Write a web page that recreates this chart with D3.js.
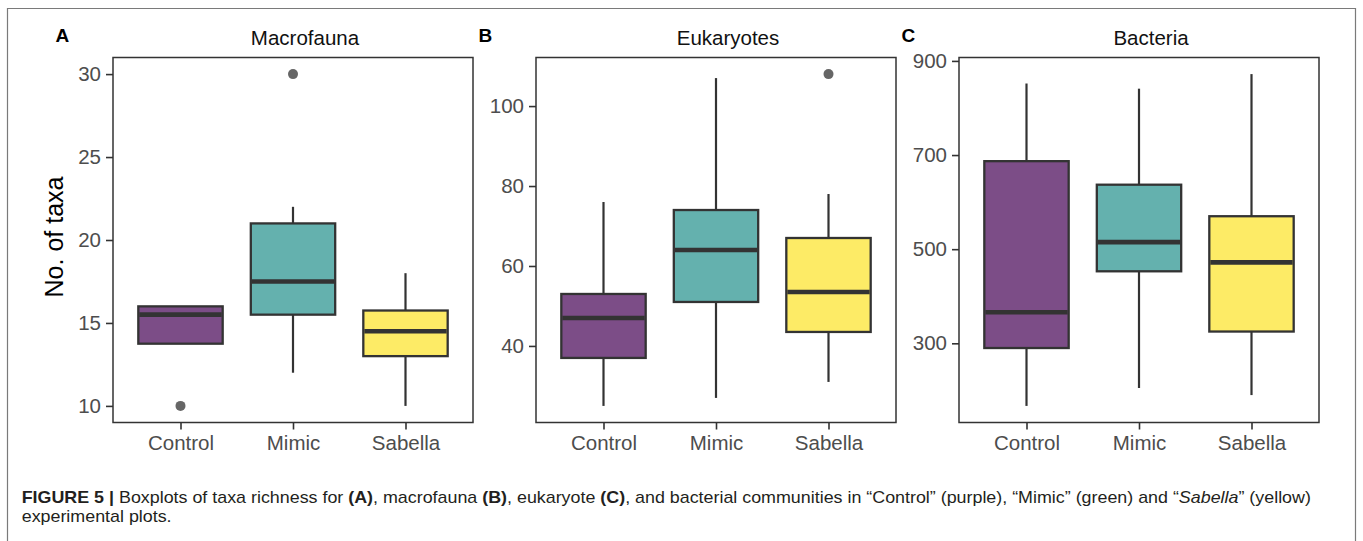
<!DOCTYPE html>
<html>
<head>
<meta charset="utf-8">
<script src="https://cdn.jsdelivr.net/npm/d3@7/dist/d3.min.js"></script>
<style>
  html, body { margin: 0; padding: 0; background: #ffffff; }
  svg { display: block; }
  text { font-family: "Liberation Sans", Arial, Helvetica, sans-serif; }
</style>
</head>
<body>
<svg id="chart" width="1363" height="541"></svg>
<script>
// ---------------- DATA ----------------
const categories = ["Control", "Mimic", "Sabella"];
const fillColors = ["#7C4D87", "#64B1AE", "#FDEB66"];

const panelLetters = ["A", "B", "C"];
const panelTitles = ["Macrofauna", "Eukaryotes", "Bacteria"];

// Macrofauna
const macroLower   = [13.75, 12, 10];
const macroQ1      = [13.75, 15.5, 13];
const macroMedian  = [15.5, 17.5, 14.5];
const macroQ3      = [16, 21, 15.75];
const macroUpper   = [16, 22, 18];
const macroOutliers = [[10], [30], []];
const macroTicks   = [10, 15, 20, 25, 30];

// Eukaryotes
const eukLower   = [25, 27, 31];
const eukQ1      = [37, 51, 43.5];
const eukMedian  = [47, 64, 53.5];
const eukQ3      = [53, 74, 67];
const eukUpper   = [76, 107, 78];
const eukOutliers = [[], [], [108]];
const eukTicks   = [40, 60, 80, 100];

// Bacteria
const bacLower   = [167, 205, 190];
const bacQ1      = [290, 453, 325];
const bacMedian  = [366, 515, 472];
const bacQ3      = [687, 637, 570];
const bacUpper   = [852, 841, 872];
const bacOutliers = [[], [], []];
const bacTicks   = [300, 500, 700, 900];

const yAxisLabel = "No. of taxa";

// ---------------- BUILD ----------------
function buildStats(lower, q1, med, q3, upper, outl) {
  return categories.map((c, i) => ({
    cat: c, lower: lower[i], q1: q1[i], median: med[i], q3: q3[i], upper: upper[i], outliers: outl[i], color: fillColors[i]
  }));
}
const panels = [
  { stats: buildStats(macroLower, macroQ1, macroMedian, macroQ3, macroUpper, macroOutliers), ticks: macroTicks },
  { stats: buildStats(eukLower, eukQ1, eukMedian, eukQ3, eukUpper, eukOutliers), ticks: eukTicks },
  { stats: buildStats(bacLower, bacQ1, bacMedian, bacQ3, bacUpper, bacOutliers), ticks: bacTicks }
];

const svg = d3.select("#chart");
const W = 1363, H = 541;

// outer frame (top, left, right)
svg.append("path")
  .attr("d", `M7.5,${H} L7.5,8.5 L1355.5,8.5 L1355.5,${H}`)
  .attr("fill", "none").attr("stroke", "#7a7a7a").attr("stroke-width", 1.2);

const plotLefts = [113, 536, 959];
const plotTop = 57.5, plotH = 365, plotW = 360;
const tickFont = 20.5;

panels.forEach((p, pi) => {
  const left = plotLefts[pi];
  const g = svg.append("g").attr("transform", `translate(${left},${plotTop})`);

  const allVals = p.stats.flatMap(s => [s.lower, s.upper, ...s.outliers]);
  const mn = d3.min(allVals), mx = d3.max(allVals);
  const pad = (mx - mn) * 0.05;
  const y = d3.scaleLinear().domain([mn - pad, mx + pad]).range([plotH, 0]);
  const x = d3.scalePoint().domain(categories).range([0, plotW]).padding(0.6);
  const bw = x.step() * 0.75;

  // y axis
  const yAxis = g.append("g").call(d3.axisLeft(y).tickValues(p.ticks).tickSize(7).tickPadding(5).tickFormat(d3.format("d")));
  yAxis.select(".domain").remove();
  yAxis.selectAll(".tick line").attr("stroke", "#333").attr("stroke-width", 1.6);
  yAxis.selectAll(".tick text").attr("fill", "#4d4d4d").attr("font-size", tickFont)
    .attr("font-family", "Liberation Sans, Arial, sans-serif");

  // x axis
  const xAxis = g.append("g").attr("transform", `translate(0,${plotH})`)
    .call(d3.axisBottom(x).tickSize(7).tickPadding(6));
  xAxis.select(".domain").remove();
  xAxis.selectAll(".tick line").attr("stroke", "#333").attr("stroke-width", 1.6);
  xAxis.selectAll(".tick text").attr("fill", "#4d4d4d").attr("font-size", tickFont)
    .attr("font-family", "Liberation Sans, Arial, sans-serif");

  const boxes = g.selectAll(".box").data(p.stats).enter().append("g").attr("class", "box");
  // whiskers
  boxes.append("line")
    .attr("x1", d => x(d.cat)).attr("x2", d => x(d.cat))
    .attr("y1", d => y(d.q3)).attr("y2", d => y(d.upper))
    .attr("stroke", "#333").attr("stroke-width", 2.2);
  boxes.append("line")
    .attr("x1", d => x(d.cat)).attr("x2", d => x(d.cat))
    .attr("y1", d => y(d.q1)).attr("y2", d => y(d.lower))
    .attr("stroke", "#333").attr("stroke-width", 2.2);
  // box
  boxes.append("rect")
    .attr("x", d => x(d.cat) - bw / 2).attr("width", bw)
    .attr("y", d => y(d.q3)).attr("height", d => y(d.q1) - y(d.q3))
    .attr("fill", d => d.color).attr("stroke", "#333").attr("stroke-width", 2.3);
  // median
  boxes.append("line")
    .attr("x1", d => x(d.cat) - bw / 2 + 1).attr("x2", d => x(d.cat) + bw / 2 - 1)
    .attr("y1", d => y(d.median)).attr("y2", d => y(d.median))
    .attr("stroke", "#333").attr("stroke-width", 4.6);
  // outliers
  boxes.selectAll("circle").data(d => d.outliers.map(v => ({ cat: d.cat, v }))).enter()
    .append("circle")
    .attr("cx", d => x(d.cat)).attr("cy", d => y(d.v)).attr("r", 5)
    .attr("fill", "#666666");

  // panel border
  g.append("rect").attr("x", 0).attr("y", 0).attr("width", plotW).attr("height", plotH)
    .attr("fill", "none").attr("stroke", "#333").attr("stroke-width", 1.5);

  // title
  svg.append("text").attr("x", left + plotW / 2 + 12).attr("y", 44.5)
    .attr("text-anchor", "middle").attr("font-size", 20.5).attr("fill", "#111")
    .text(panelTitles[pi]);
  // panel letter
  svg.append("text").attr("x", left - 57.5).attr("y", 41.5)
    .attr("font-size", 19).attr("font-weight", "bold").attr("fill", "#000")
    .text(panelLetters[pi]);
});

// y axis label
svg.append("text")
  .attr("transform", "translate(63,237) rotate(-90)")
  .attr("text-anchor", "middle").attr("font-size", 25).attr("fill", "#000")
  .text(yAxisLabel);

// caption
function captionLine(parts, yPos, targetW) {
  const t = svg.append("text").attr("x", 0).attr("y", 0).attr("font-size", 16.8).attr("fill", "#231f20");
  parts.forEach(pt => {
    const ts = t.append("tspan").text(pt.t);
    if (pt.b) ts.attr("font-weight", "bold");
    if (pt.i) ts.attr("font-style", "italic");
  });
  return t;
}
const line1 = captionLine([
  { t: "FIGURE 5 | ", b: true },
  { t: "Boxplots of taxa richness for " },
  { t: "(A)", b: true },
  { t: ", macrofauna " },
  { t: "(B)", b: true },
  { t: ", eukaryote " },
  { t: "(C)", b: true },
  { t: ", and bacterial communities in \u201CControl\u201D (purple), \u201CMimic\u201D (green) and \u201C" },
  { t: "Sabella", i: true },
  { t: "\u201D (yellow)" }
]);
const w1 = line1.node().getComputedTextLength();
const sx = 1289 / w1;
line1.attr("transform", `translate(21.7,503.3) scale(${sx},1)`);
const line2 = captionLine([{ t: "experimental plots." }]);
line2.attr("transform", `translate(21.7,521.5) scale(${sx},1)`);
</script>
</body>
</html>
